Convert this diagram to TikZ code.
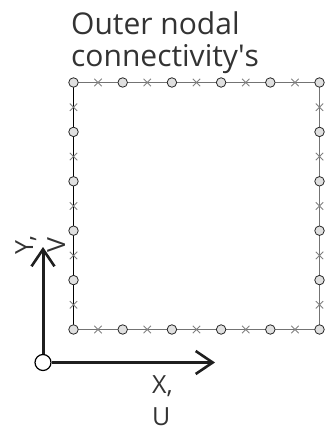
\documentclass[tikz,border=0pt]{standalone}
\usepackage{fontspec}
\setmainfont{Open Sans}
\usetikzlibrary{arrows.meta,shapes.misc,backgrounds}
\begin{document}
\begin{tikzpicture}[x=1pt,y=-1pt,
  nd/.style={circle,draw=black!85,fill=black!12,line width=0.8pt,minimum size=9.5pt,inner sep=0pt},
  cx/.style={cross out,draw=black!50,line width=0.9pt,minimum size=6.5pt,inner sep=0pt},
  grayedge/.style={draw=black!55,line width=1pt},
  blackedge/.style={draw=black,line width=1pt},
  axis/.style={line width=3pt,draw=black!88,-{Straight Barb[length=17pt,width=23pt,line width=2.6pt]}},
  title/.style={font=\fontsize{30}{32}\selectfont,text=black!80,align=left,inner sep=0pt},
  lbl/.style={font=\fontsize{25}{32}\selectfont,text=black!80,inner sep=0pt}]
\useasboundingbox (0,0) rectangle (326,430);
% boundary nodes
\foreach \i in {0,...,5}{
  \node[nd] (T\i) at ({73.5+49.2*\i},82.5) {};
  \node[nd] (B\i) at ({73.5+49.2*\i},329.5) {};
}
\foreach \j in {1,...,4}{
  \node[nd] (L\j) at (73.5,{82.5+49.4*\j}) {};
  \node[nd] (R\j) at (319.5,{82.5+49.4*\j}) {};
}
\begin{scope}[on background layer]
  \draw[blackedge] (T0.center) -- (B0.center);
  \draw[grayedge] (T0.center) -- (T5.center) -- (B5.center) -- (B0.center);
\end{scope}
% cross markers
\foreach \i in {0,...,4}{
  \node[cx] (ct\i) at ({73.5+49.2*(\i+0.5)},82.5) {};
  \node[cx] (cb\i) at ({73.5+49.2*(\i+0.5)},329.5) {};
  \node[cx] (cl\i) at (73.5,{82.5+49.4*(\i+0.5)}) {};
  \node[cx] (cr\i) at (319.5,{82.5+49.4*(\i+0.5)}) {};
}
% title
\node[title,anchor=base west] (ttl) at (71,67) {Outer nodal\\connectivity\textquotesingle s};
% axes
\node[circle,draw=black,fill=white,line width=1.2pt,minimum size=16pt,inner sep=0pt] (O) at (43,362.5) {};
\coordinate (xtip) at (215,362.5);
\coordinate (ytip) at (43,247);
\draw[axis] (O) -- (xtip);
\draw[axis] (O) -- (ytip);
\node[lbl,align=center,rotate=90,anchor=base] (ylab) at (65,245) {Y,\\V};
\node[lbl,align=left,anchor=base west] (xlab) at (152,425) {X,\\U};
\end{tikzpicture}
\end{document}
